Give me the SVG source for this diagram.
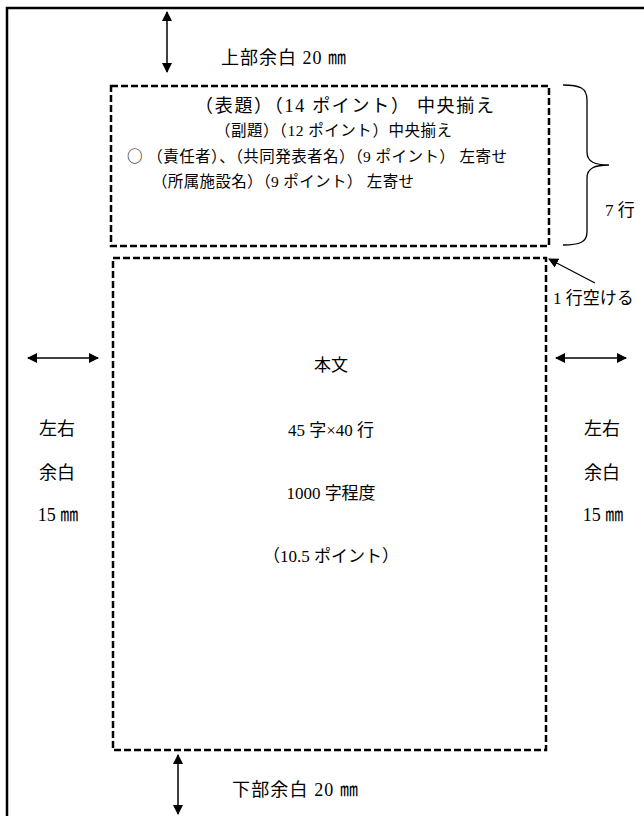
<svg xmlns="http://www.w3.org/2000/svg" width="644" height="816" viewBox="0 0 644 816">
<defs>
<marker id="ah" viewBox="0 0 10 10" refX="9" refY="5" markerWidth="10" markerHeight="10" markerUnits="userSpaceOnUse" orient="auto-start-reverse">
<path d="M0,0 L10,5 L0,10 Z" fill="#000"/>
</marker>
<style>
text{font-family:"Liberation Serif","Noto Sans CJK JP",serif;fill:#000;}
.cjk{font-family:"Noto Sans CJK JP",sans-serif;}
.dash{fill:none;stroke:#000;stroke-width:2.5;stroke-dasharray:7 3;}
.arr{stroke:#000;stroke-width:1.5;fill:none;marker-start:url(#ah);marker-end:url(#ah);}
.big{font-size:18px;}
.t15{font-size:15.5px;}
.col{font-size:18px;text-anchor:middle;}
.bt{font-size:17px;text-anchor:middle;}
</style>
</defs>
<rect x="0" y="0" width="644" height="816" fill="#fff"/>
<rect id="page" x="7" y="8" width="700" height="900" fill="none" stroke="#000" stroke-width="2.5"/>

<g id="header">
<rect class="dash" x="111" y="86" width="438" height="160"/>
<text x="195" y="112" font-size="18" textLength="299" lengthAdjust="spacing">（表題）（14 ポイント） 中央揃え</text>
<text x="215" y="136" class="t15" textLength="237" lengthAdjust="spacing">（副題）（12 ポイント）中央揃え</text>
<text x="127" y="162" class="t15" textLength="380" lengthAdjust="spacing"><tspan class="cjk">○</tspan> （責任者）、（共同発表者名）（9 ポイント） 左寄せ</text>
<text x="152" y="187" class="t15" textLength="262" lengthAdjust="spacing">（所属施設名）（9 ポイント） 左寄せ</text>
</g>

<g id="body">
<rect class="dash" x="113" y="258" width="433" height="492"/>
<text x="331" y="371" class="bt">本文</text>
<text x="331" y="436" class="bt">45 字×40 行</text>
<text x="331" y="499" class="bt">1000 字程度</text>
<text x="331" y="562" class="bt">（10.5 ポイント）</text>
</g>

<g id="left-margin">
<text x="57" y="435" class="col">左右</text>
<text x="57" y="479" class="col">余白</text>
<text x="58" y="521" class="col">15 ㎜</text>
</g>
<g id="right-margin">
<text x="602" y="435" class="col">左右</text>
<text x="602" y="479" class="col">余白</text>
<text x="603" y="521" class="col">15 ㎜</text>
</g>

<g id="labels">
<text x="221" y="64" class="big" textLength="125" lengthAdjust="spacing">上部余白 20 ㎜</text>
<text x="232" y="796" class="big" textLength="126" lengthAdjust="spacing">下部余白 20 ㎜</text>
<text x="605" y="216" font-size="17">7 行</text>
<text x="553" y="304" font-size="17">1 行空ける</text>
</g>

<g id="connectors">
<line class="arr" x1="167" y1="12" x2="167" y2="72"/>
<line class="arr" x1="178" y1="755" x2="178" y2="814"/>
<line class="arr" x1="28" y1="358" x2="98" y2="358"/>
<line class="arr" x1="556" y1="358" x2="626" y2="358"/>
<line x1="595" y1="283" x2="549" y2="259" stroke="#000" stroke-width="1.3" marker-end="url(#ah)"/>
<path d="M563,85 C580,85 587,88 587,100 L587,152 C587,162 595,165 609,165 C595,165 587,168 587,178 L587,232 C587,242 580,245 563,245" fill="none" stroke="#000" stroke-width="1.3"/>
</g>
</svg>
